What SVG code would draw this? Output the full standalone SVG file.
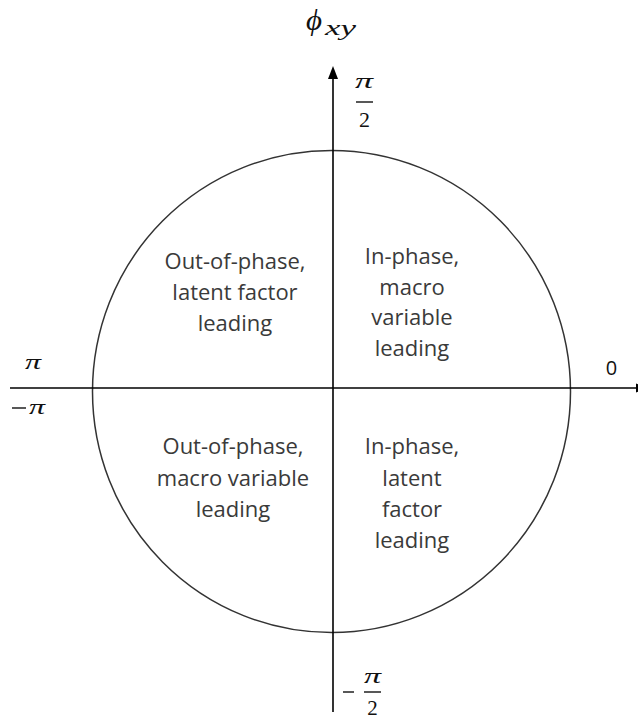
<svg xmlns="http://www.w3.org/2000/svg" width="638" height="720" viewBox="0 0 638 720">
<style>
.lbl{font-family:"Open Sans","Liberation Sans",sans-serif;font-size:22px;fill:#3a3a3a;text-anchor:middle}
.m{font-family:"Liberation Serif","DejaVu Serif",serif;font-style:italic;fill:#111}
.mn{font-family:"Liberation Serif","DejaVu Serif",serif;fill:#111}
.ax{stroke:#000;stroke-width:1.6;fill:none}
.bar{stroke:#111;stroke-width:1.4}
</style>
<rect width="638" height="720" fill="#fff"/>
<g id="circle"><ellipse cx="331.5" cy="391.5" rx="239" ry="241" fill="none" stroke="#333" stroke-width="1.5"/></g>
<g id="axes">
<line class="ax" x1="10" y1="388" x2="638" y2="388"/>
<polygon points="636,383.5 648,388 636,392.5" fill="#000"/>
<line class="ax" x1="333" y1="76" x2="333" y2="712"/>
<polygon points="333,66 328,79 338,79" fill="#000"/>
</g>
<g id="title"><text x="306" y="30" class="m" font-size="29" textLength="16" lengthAdjust="spacingAndGlyphs">ϕ</text><text x="325" y="35" class="m" font-size="21" textLength="31" lengthAdjust="spacingAndGlyphs">xy</text></g>
<g id="top-label"><text x="355" y="88" class="m" font-size="22" textLength="18" lengthAdjust="spacingAndGlyphs">π</text><line class="bar" x1="356" y1="102" x2="373" y2="102"/><text x="364.5" y="127" class="mn" font-size="22" text-anchor="middle">2</text></g>
<g id="bottom-label"><line class="bar" x1="343" y1="692" x2="354" y2="692"/><text x="364" y="683" class="m" font-size="22" textLength="17" lengthAdjust="spacingAndGlyphs">π</text><line class="bar" x1="364" y1="692" x2="381" y2="692"/><text x="372.5" y="715" class="mn" font-size="21" text-anchor="middle">2</text></g>
<g id="left-label"><text x="25" y="369" class="m" font-size="22" textLength="16" lengthAdjust="spacingAndGlyphs">π</text><line class="bar" x1="12" y1="408" x2="26" y2="408"/><text x="29" y="414" class="m" font-size="22" textLength="16" lengthAdjust="spacingAndGlyphs">π</text></g>
<g id="right-label"><text x="611.5" y="375" class="lbl" style="fill:#111;font-size:20px">0</text></g>
<g id="q2"><text class="lbl" x="235" y="269">Out-of-phase,</text><text class="lbl" x="235" y="300">latent factor</text><text class="lbl" x="235" y="331">leading</text></g>
<g id="q1"><text class="lbl" x="412" y="264">In-phase,</text><text class="lbl" x="412" y="295">macro</text><text class="lbl" x="412" y="325">variable</text><text class="lbl" x="412" y="356">leading</text></g>
<g id="q3"><text class="lbl" x="233" y="454">Out-of-phase,</text><text class="lbl" x="233" y="486">macro variable</text><text class="lbl" x="233" y="517">leading</text></g>
<g id="q4"><text class="lbl" x="412" y="454">In-phase,</text><text class="lbl" x="412" y="486">latent</text><text class="lbl" x="412" y="517">factor</text><text class="lbl" x="412" y="548">leading</text></g>
</svg>
